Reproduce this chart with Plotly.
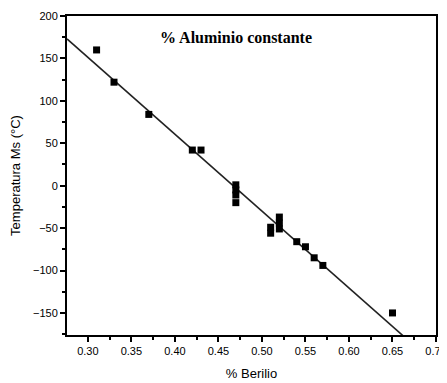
import numpy as np
import plotly.graph_objects as go

# Data
berilio = [0.31, 0.33, 0.37, 0.42, 0.43,
           0.47, 0.47, 0.47, 0.47,
           0.51, 0.51,
           0.52, 0.52, 0.52,
           0.54, 0.55, 0.56, 0.57, 0.65]
temp_ms = [160, 122, 84, 42, 42,
           1, -5, -11, -20,
           -49, -56,
           -37, -44, -51,
           -66, -72, -85, -94, -150]

# Linear fit
fit_intercept = 423.0
fit_slope = -906.0

x_range = [0.276, 0.70]
y_range = [-176, 200]

fit_x = np.array(x_range)
fit_y = fit_intercept + fit_slope * fit_x

fig = go.Figure()
fig.add_trace(go.Scatter(x=fit_x, y=fit_y, mode="lines",
                         line=dict(color="#222", width=1.6), showlegend=False))
fig.add_trace(go.Scatter(x=berilio, y=temp_ms, mode="markers",
                         marker=dict(symbol="square", size=7, color="black"),
                         showlegend=False, cliponaxis=False))

axis_common = dict(showline=True, linecolor="black", linewidth=2, mirror=True,
                   ticks="outside", ticklen=5, tickwidth=1.5, tickcolor="black",
                   showgrid=False, zeroline=False, automargin=False,
                   tickfont=dict(family="Liberation Sans, Arial", size=11, color="black"))

fig.update_xaxes(range=x_range, dtick=0.05, tick0=0.30, tickformat=".2f",
                 minor=dict(ticks="outside", ticklen=3, dtick=0.025, tick0=0.275,
                            tickcolor="black", tickwidth=1.5),
                 title=dict(text="% Berilio", font=dict(family="Liberation Sans, Arial", size=13, color="black"),
                            standoff=13),
                 **axis_common)
fig.update_yaxes(range=y_range, dtick=50, tick0=0,
                 minor=dict(ticks="outside", ticklen=3, dtick=25, tick0=0,
                            tickcolor="black", tickwidth=1.5),
                 title=dict(text="Temperatura Ms (°C)", font=dict(family="Liberation Sans, Arial", size=13, color="black"),
                            standoff=16),
                 **axis_common)

fig.add_annotation(text="<b>% Aluminio constante</b>", xref="paper", yref="paper",
                   x=0.458, y=0.934, xanchor="center", yanchor="middle", showarrow=False,
                   font=dict(family="Liberation Serif, DejaVu Serif", size=16, color="black"))

# page body has an 8px margin, so the figure is sized to fit the window
fig.update_layout(width=439, height=375, plot_bgcolor="white", paper_bgcolor="white",
                  margin=dict(l=59, r=11, t=8, b=48))

fig.write_html("out.html")
